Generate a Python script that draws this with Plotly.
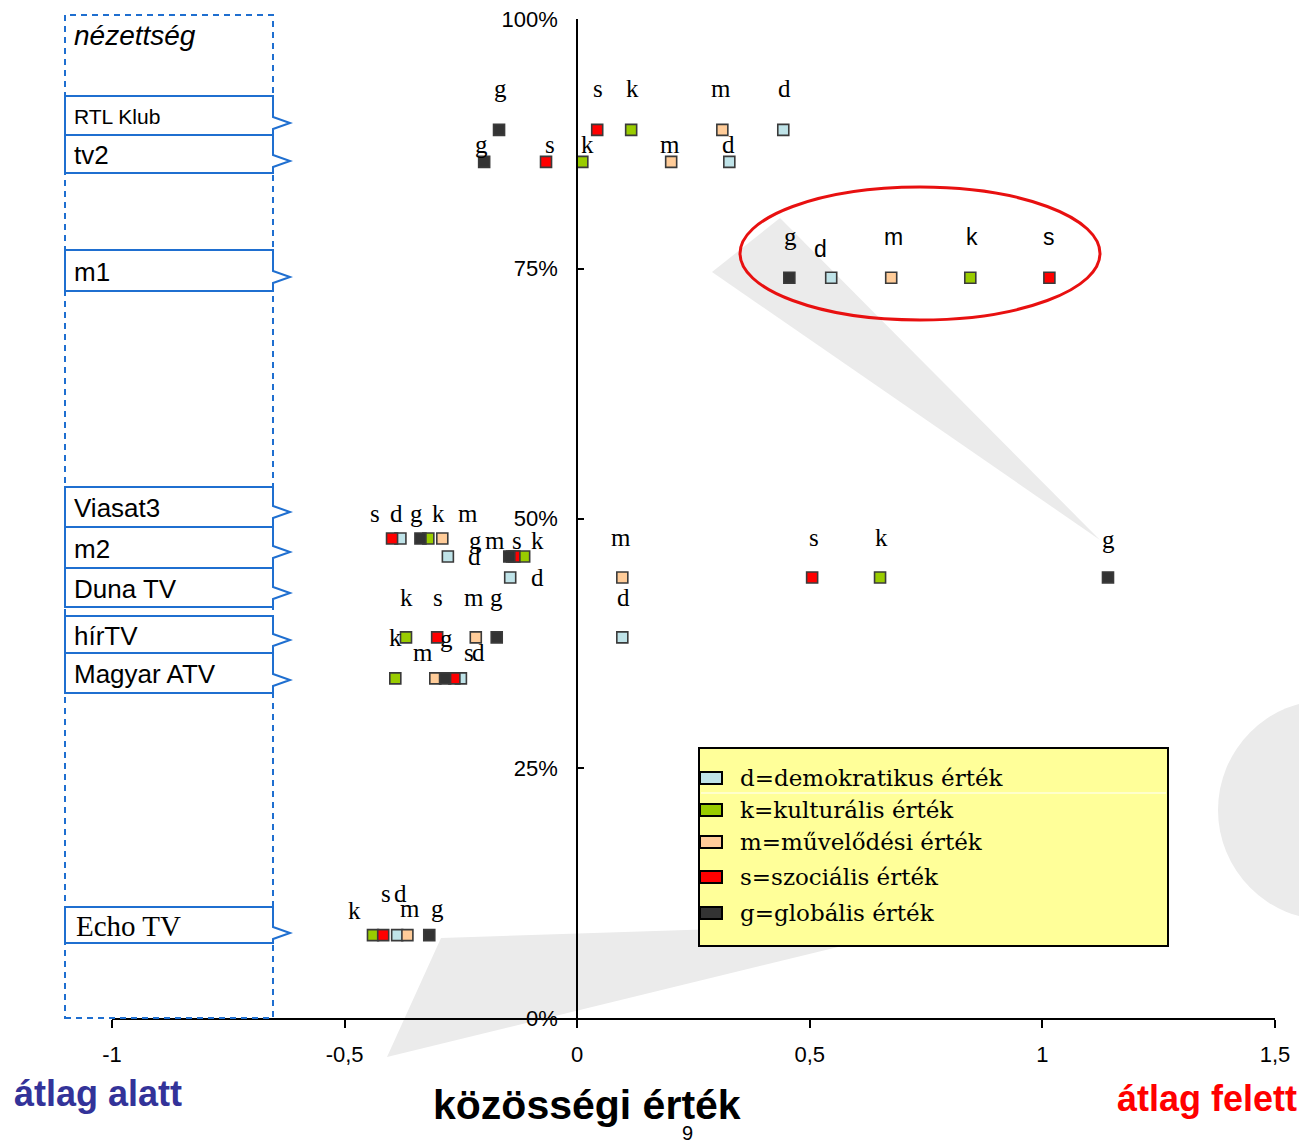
import plotly.graph_objects as go

# ---------------- data ----------------
channels = ["RTL Klub", "tv2", "m1", "Viasat3", "m2", "Duna TV", "hírTV", "Magyar ATV", "Echo TV"]
viewership = [88.9, 85.7, 74.1, 48.0, 46.2, 44.1, 38.1, 34.0, 8.3]

series_keys = ["d", "k", "m", "s", "g"]
series_names = ["d=demokratikus érték", "k=kulturális érték", "m=művelődési érték",
                "s=szociális érték", "g=globális érték"]

d_values = [0.443, 0.327, 0.546, -0.380, -0.278, -0.144, 0.097, -0.250, -0.387]
k_values = [0.116, 0.011, 0.845, -0.320, -0.114, 0.651, -0.368, -0.391, -0.439]
m_values = [0.312, 0.202, 0.675, -0.290, -0.140, 0.097, -0.218, -0.305, -0.365]
s_values = [0.043, -0.067, 1.015, -0.398, -0.135, 0.505, -0.301, -0.264, -0.417]
g_values = [-0.168, -0.200, 0.456, -0.337, -0.146, 1.141, -0.173, -0.284, -0.318]

x_ticks = [-1, -0.5, 0, 0.5, 1, 1.5]
x_tick_labels = ["-1", "-0,5", "0", "0,5", "1", "1,5"]
y_ticks = [0, 25, 50, 75, 100]
y_tick_labels = ["0%", "25%", "50%", "75%", "100%"]

# ---------------- styles ----------------
series_values = {"d": d_values, "k": k_values, "m": m_values, "s": s_values, "g": g_values}
series_colors = {"d": "#BFE3E8", "k": "#99CC00", "m": "#FFCC99", "s": "#FF0000", "g": "#333333"}

# label offsets in pixels (dx, dy up) per channel / series
label_offsets = {
    "RTL Klub": {"g": (1, 41), "s": (1, 41), "k": (1, 41), "m": (-1, 41), "d": (1, 41)},
    "tv2": {"g": (-3, 17), "s": (4, 17), "k": (5, 17), "m": (-1, 17), "d": (-1, 17)},
    "m1": {"g": (1, 41), "d": (-11, 29), "m": (2, 41), "k": (2, 41), "s": (0, 41)},
    "Viasat3": {"s": (-17, 25), "d": (-4, 25), "g": (-4, 25), "k": (10, 25), "m": (26, 25)},
    "m2": {"g": (-34, 16), "m": (-17, 16), "s": (3, 16), "k": (13, 16), "d": (27, 0)},
    "Duna TV": {"m": (-1, 40), "s": (2, 40), "k": (1, 40), "g": (1, 38), "d": (27, 0)},
    "hírTV": {"k": (0, 40), "s": (1, 40), "m": (-2, 40), "g": (0, 40), "d": (1, 40)},
    "Magyar ATV": {"k": (0, 41), "m": (-12, 26), "g": (1, 40), "s": (15, 26), "d": (18, 26)},
    "Echo TV": {"k": (-18, 25), "s": (3, 42), "d": (3, 42), "m": (3, 27), "g": (8, 27)},
}

SERIF = "Liberation Serif, Times New Roman, serif"
SANS = "Liberation Sans, Arial, sans-serif"
BLUE = "#1F6FD0"
GRAY = "#EBEBEB"

# page body has an 8px margin: figure is sized so that it fills the 1307x1146 window
OFF = 8
W, H = 1307 - OFF, 1146 - OFF
# target screen positions of plot area: x 112..1275, y 19..1018
ML, MR, MT, MB = 112 - OFF, 1307 - 1275, 19 - OFF, 1146 - 1018
PW, PH = W - ML - MR, H - MT - MB


def px(xs):
    """screen x pixel -> paper"""
    return (xs - OFF - ML) / PW


def py(ys):
    """screen y pixel -> paper"""
    return (OFF + MT + PH - ys) / PH


def path(points):
    return "M " + " L ".join(f"{px(a):.5f},{py(b):.5f}" for a, b in points) + " Z"


fig = go.Figure()

for key in series_keys:
    fig.add_trace(go.Scatter(
        x=series_values[key], y=viewership, mode="markers", name=key,
        marker=dict(symbol="square", size=11, color=series_colors[key],
                    line=dict(color="#3A3A3A", width=1.6)),
        showlegend=False, hoverinfo="skip",
    ))

annotations = []
# point labels
for key in series_keys:
    for ch, xv, yv in zip(channels, series_values[key], viewership):
        dx, dy = label_offsets[ch][key]
        fam = SANS if (ch == "m1" and key != "g") else SERIF
        size = 23 if fam == SANS else 25
        annotations.append(dict(x=xv, y=yv, xref="x", yref="y", text=key, showarrow=False,
                                xanchor="center", yanchor="middle",
                                xshift=dx, yshift=dy, font=dict(family=fam, size=size, color="black")))

shapes = []
# decorative gray callout shapes
shapes.append(dict(type="path", xref="paper", yref="paper", layer="below",
                   path=path([(780, 218), (712, 272), (1100, 540)]),
                   fillcolor=GRAY, line=dict(width=0)))
shapes.append(dict(type="path", xref="paper", yref="paper", layer="below",
                   path=path([(387, 1057), (441, 938), (1150, 915), (1150, 871)]),
                   fillcolor=GRAY, line=dict(width=0)))
shapes.append(dict(type="circle", xref="paper", yref="paper", layer="below",
                   x0=px(1218), x1=px(1438), y0=py(920), y1=py(700),
                   fillcolor=GRAY, line=dict(width=0)))
# red ellipse
shapes.append(dict(type="circle", xref="paper", yref="paper", layer="above",
                   x0=px(740), x1=px(1100), y0=py(320), y1=py(187),
                   line=dict(color="#E81010", width=3)))
# dashed outer box
shapes.append(dict(type="rect", xref="paper", yref="paper", layer="above",
                   x0=px(65), x1=px(273), y0=py(1018), y1=py(15),
                   line=dict(color=BLUE, width=2, dash="6px,5px")))

# channel callout boxes
box_geom = {
    "RTL Klub": (96, 135, 123), "tv2": (135, 173, 161), "m1": (250, 291, 277),
    "Viasat3": (487, 527, 512), "m2": (527, 568, 552), "Duna TV": (568, 607, 593),
    "hírTV": (616, 653, 640), "Magyar ATV": (653, 693, 680), "Echo TV": (907, 943, 933),
}
box_font = {"RTL Klub": (SANS, 21), "Echo TV": (SERIF, 29)}
for ch in channels:
    top, bot, tip = box_geom[ch]
    pts = [(65, top), (273, top), (273, tip - 6), (290, tip), (273, tip + 6), (273, bot), (65, bot)]
    shapes.append(dict(type="path", xref="paper", yref="paper", layer="above", path=path(pts),
                       fillcolor="white", line=dict(color=BLUE, width=2)))
    fam, fs = box_font.get(ch, (SANS, 26))
    annotations.append(dict(x=px(72 if ch != "Echo TV" else 74), y=py((top + bot) / 2 + 1),
                            xref="paper", yref="paper", text=ch, showarrow=False,
                            xanchor="left", yanchor="middle",
                            font=dict(family=fam, size=fs, color="black")))

annotations.append(dict(x=px(72), y=py(36), xref="paper", yref="paper", text="<i>nézettség</i>",
                        showarrow=False, xanchor="left", yanchor="middle",
                        font=dict(family=SANS, size=28, color="black")))

# custom legend
shapes.append(dict(type="rect", xref="paper", yref="paper", layer="above",
                   x0=px(699), x1=px(1168), y0=py(946), y1=py(748),
                   fillcolor="#FFFF99", line=dict(color="black", width=2)))
shapes.append(dict(type="line", xref="paper", yref="paper", layer="above",
                   x0=px(701), x1=px(1166), y0=py(793), y1=py(793),
                   line=dict(color="white", width=1)))
legend_rows = [778, 810, 842, 877, 913]
for key, name, yy in zip(series_keys, series_names, legend_rows):
    shapes.append(dict(type="rect", xref="paper", yref="paper", layer="above",
                       x0=px(700), x1=px(722), y0=py(yy + 6), y1=py(yy - 6),
                       fillcolor=series_colors[key], line=dict(color="black", width=2)))
    annotations.append(dict(x=px(738), y=py(yy), xref="paper", yref="paper", text=name,
                            showarrow=False, xanchor="left", yanchor="middle",
                            font=dict(family="DejaVu Serif, serif", size=23, color="black")))

# bottom texts
bottom_texts = [
    ("<b>átlag alatt</b>", 98, 1093, 36, "#333399"),
    ("<b>közösségi érték</b>", 587, 1105, 41, "black"),
    ("<b>átlag felett</b>", 1207, 1098, 36, "#FF0000"),
    ("9", 687, 1133, 20, "black"),
]
for txt, xx, yy, fs, col in bottom_texts:
    annotations.append(dict(x=px(xx), y=py(yy), xref="paper", yref="paper", text=txt,
                            showarrow=False, xanchor="center", yanchor="middle",
                            font=dict(family=SANS, size=fs, color=col)))

fig.update_layout(
    width=W, height=H, autosize=False,
    margin=dict(l=ML, r=MR, t=MT, b=MB, pad=0, autoexpand=False),
    paper_bgcolor="white", plot_bgcolor="white",
    shapes=shapes, annotations=annotations,
    xaxis=dict(range=[-1, 1.5], tickvals=x_ticks, ticktext=x_tick_labels, automargin=False,
               showline=True, linecolor="black", linewidth=2, ticks="outside", ticklen=8,
               tickwidth=2, tickcolor="black", showgrid=False, zeroline=False,
               ticklabeloverflow="allow",
               ticklabelstandoff=8, tickfont=dict(family=SANS, size=22, color="black")),
    yaxis=dict(range=[0, 100], tickvals=y_ticks, ticktext=y_tick_labels, automargin=False,
               anchor="free", position=0.4, side="left",
               showline=True, linecolor="black", linewidth=2, ticks="inside", ticklen=6,
               tickwidth=2, tickcolor="black", showgrid=False, zeroline=False,
               ticklabeloverflow="allow",
               ticklabelstandoff=14, tickfont=dict(family=SANS, size=22, color="black")),
)

fig.write_html("out.html")
